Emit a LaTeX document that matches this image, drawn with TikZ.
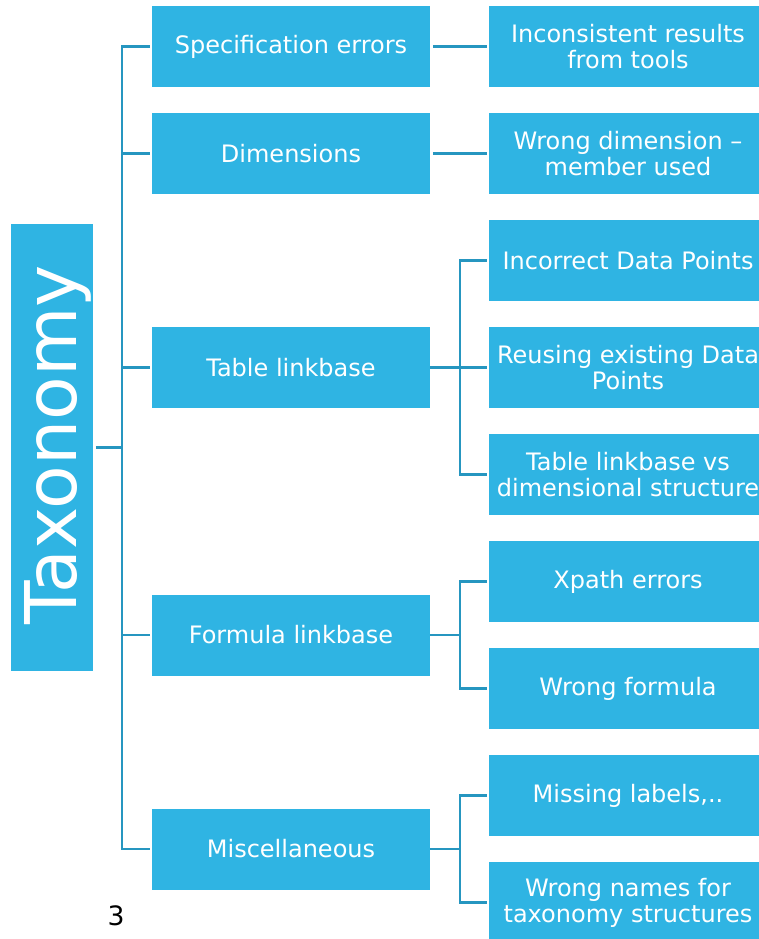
\documentclass[tikz,border=0pt]{standalone}
\usepackage{fontspec}
\setmainfont{DejaVu Sans}
\usetikzlibrary{positioning}
\definecolor{boxblue}{RGB}{47,180,227}
\definecolor{linkblue}{RGB}{38,150,192}

\begin{document}
\begin{tikzpicture}[x=0.75pt,y=-0.75pt,
    box/.style={fill=boxblue, text=white, align=center, inner sep=0pt,
      minimum width=208.5pt, minimum height=60.75pt,
      font=\fontsize{18}{19.5}\selectfont},
    link/.style={draw=linkblue, line width=1.6pt, shorten >=1.5pt}]
  \useasboundingbox (0,0) rectangle (758,939);

  %%    % root
  \node[box, minimum width=61.5pt, minimum height=335.25pt] (taxo) at (52,447.5) {};
  \node[text=white, rotate=90, font=\fontsize{53.5}{53.5}\selectfont] (taxolabel) at (57.5,445) {Taxonomy};
  \coordinate (trunk) at (122,447.5);

  %%    % first level
  \node[box] (spec) at (291,46.5) {Specification errors};
  \node[box] (dim) at (291,153.5) {Dimensions};
  \node[box] (table) at (291,367.5) {Table linkbase};
  \node[box] (formula) at (291,635) {Formula linkbase};
  \node[box] (misc) at (291,849) {Miscellaneous};

  %%    % second level
  \node[box] (incons) at (628,46.5) {Inconsistent results\\from tools};
  \node[box] (wrongdim) at (628,153.5) {Wrong dimension –\\member used};
  \node[box] (datapts) at (628,260.5) {Incorrect Data Points};
  \node[box] (reuse) at (628,367.5) {Reusing existing Data\\Points};
  \node[box] (vsdim) at (628,474.5) {Table linkbase vs\\dimensional structure};
  \node[box] (xpath) at (628,581.5) {Xpath errors};
  \node[box] (wrongform) at (628,688.5) {Wrong formula};
  \node[box] (labels) at (628,795.5) {Missing labels,..};
  \node[box] (names) at (628,902.5) {Wrong names for\\taxonomy structures};

  \node[font=\fontsize{20}{20}\selectfont] (pagenum) at (116,916) {3};

  %%    % connectors
  \draw[link, shorten <=2pt, shorten >=0pt] (taxo.east) -- (trunk);
  \foreach \first in {spec,dim,table,formula,misc}
    \draw[link] (trunk) |- (\first.west);

  \draw[link, shorten <=2pt] (spec) -- (incons);
  \draw[link, shorten <=2pt] (dim) -- (wrongdim);

  \draw[link, shorten >=0pt] (table.east) -- ++(30,0) coordinate (tablefork);
  \foreach \kid in {datapts,reuse,vsdim}
    \draw[link] (tablefork) |- (\kid.west);

  \draw[link, shorten >=0pt] (formula.east) -- ++(30,0) coordinate (formfork);
  \foreach \kid in {xpath,wrongform}
    \draw[link] (formfork) |- (\kid.west);

  \draw[link, shorten >=0pt] (misc.east) -- ++(30,0) coordinate (miscfork);
  \foreach \kid in {labels,names}
    \draw[link] (miscfork) |- (\kid.west);
\end{tikzpicture}
\end{document}
